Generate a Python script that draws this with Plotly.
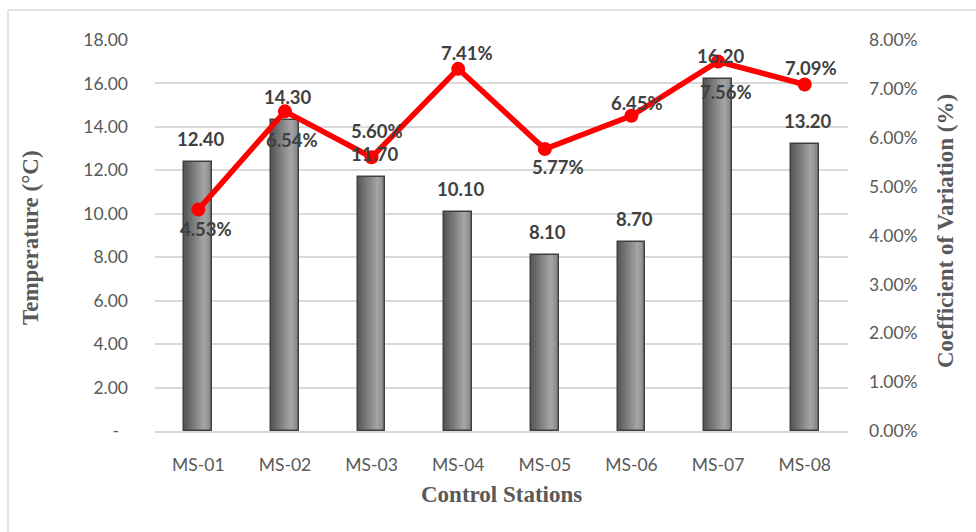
import plotly.graph_objects as go

# ---- data ----
stations = ["MS-01", "MS-02", "MS-03", "MS-04", "MS-05", "MS-06", "MS-07", "MS-08"]
temperature_c = [12.40, 14.30, 11.70, 10.10, 8.10, 8.70, 16.20, 13.20]
cv_percent = [4.53, 6.54, 5.60, 7.41, 5.77, 6.45, 7.56, 7.09]

temp_tick_vals = [0, 2, 4, 6, 8, 10, 12, 14, 16, 18]
temp_tick_text = ["-\u00a0\u00a0", "2.00", "4.00", "6.00", "8.00", "10.00",
                  "12.00", "14.00", "16.00", "18.00"]
cv_tick_vals = [0, 1, 2, 3, 4, 5, 6, 7, 8]
cv_tick_text = ["0.00%", "1.00%", "2.00%", "3.00%", "4.00%", "5.00%",
                "6.00%", "7.00%", "8.00%"]

# pixel offsets (dx, dy) of each CV label from its marker
cv_label_offsets = [(8, -19), (7, -29), (5, 26), (9, 16),
                    (13, -18), (6, 13), (8, -30), (6, 16)]

# ---- styling ----
W, H = 976, 532
ML, MR, MT, MB = 155, 128, 40, 101
TICK_FONT = dict(family="Lato", size=17.5, color="#595959")
LABEL_FONT = dict(family="Lato", size=18.5, color="#404040")
TITLE_FONT = dict(family="Liberation Serif", size=23, color="#595959")
GRID = "#d9d9d9"
BAR_W = 0.32
N_SLICES = 18


def shade(t):
    """Horizontal grey gradient across a bar: dark left edge, light toward right."""
    stops = [(0.0, 0x56), (0.72, 0xa6), (1.0, 0x80)]
    for (t0, c0), (t1, c1) in zip(stops, stops[1:]):
        if t <= t1:
            f = (t - t0) / (t1 - t0)
            c = round(c0 + (c1 - c0) * f)
            return f"rgb({c},{c},{c})"
    c = stops[-1][1]
    return f"rgb({c},{c},{c})"


fig = go.Figure()

# gradient-filled columns built from thin overlapping slices
step = BAR_W / N_SLICES
for i in range(N_SLICES):
    w = step * (1.6 if i < N_SLICES - 1 else 1.0)
    fig.add_trace(go.Bar(
        x=stations, y=temperature_c,
        width=w, offset=-BAR_W / 2 + i * step,
        marker=dict(color=shade((i + 0.5) / N_SLICES), line=dict(width=0)),
        hoverinfo="skip", showlegend=False,
    ))

# column outline
fig.add_trace(go.Bar(
    x=stations, y=temperature_c,
    width=BAR_W, offset=-BAR_W / 2,
    marker=dict(color="rgba(0,0,0,0)", line=dict(color="#404040", width=1.5)),
    name="Temperature", showlegend=False,
))

# coefficient of variation line
fig.add_trace(go.Scatter(
    x=stations, y=cv_percent, yaxis="y2",
    mode="lines+markers",
    line=dict(color="#ff0000", width=5.5),
    marker=dict(color="#ff0000", size=14),
    name="CV", showlegend=False,
))

annotations = []
for s, v in zip(stations, temperature_c):
    annotations.append(dict(
        x=s, y=v, xref="x", yref="y", text=f"<b>{v:.2f}</b>",
        showarrow=False, xshift=3, yshift=23, font=LABEL_FONT,
    ))
for s, v, (dx, dy) in zip(stations, cv_percent, cv_label_offsets):
    annotations.append(dict(
        x=s, y=v, xref="x", yref="y2", text=f"<b>{v:.2f}%</b>",
        showarrow=False, xshift=dx, yshift=dy, font=LABEL_FONT,
    ))


def px_x(px):
    return (px - ML) / (W - ML - MR)


def px_y(py):
    return (H - MB - py) / (H - MT - MB)


annotations += [
    dict(x=px_x(30), y=px_y(238), xref="paper", yref="paper",
         text="<b>Temperature (°C)</b>", textangle=-90, showarrow=False,
         xanchor="center", yanchor="middle", font=TITLE_FONT),
    dict(x=px_x(945), y=px_y(231), xref="paper", yref="paper",
         text="<b>Coefficient of Variation (%)</b>", textangle=-90, showarrow=False,
         xanchor="center", yanchor="middle", font=TITLE_FONT),
    dict(x=px_x(502), y=px_y(494), xref="paper", yref="paper",
         text="<b>Control Stations</b>", showarrow=False,
         xanchor="center", yanchor="middle", font=TITLE_FONT),
]

# light frame around the chart area (left and top edges)
shapes = [
    dict(type="line", xref="paper", yref="paper",
         x0=px_x(8), x1=px_x(8), y0=px_y(10), y1=px_y(560),
         line=dict(color=GRID, width=1.5)),
    dict(type="line", xref="paper", yref="paper",
         x0=px_x(8), x1=px_x(1000), y0=px_y(10), y1=px_y(10),
         line=dict(color=GRID, width=1.5)),
]

fig.update_layout(
    width=W, height=H,
    margin=dict(l=ML, r=MR, t=MT, b=MB, pad=0),
    paper_bgcolor="white", plot_bgcolor="white",
    barmode="overlay", bargap=0,
    showlegend=False,
    annotations=annotations,
    shapes=shapes,
    xaxis=dict(
        type="category", range=[-0.5, 7.5],
        showgrid=False, zeroline=False,
        showline=True, linecolor=GRID, linewidth=1.5,
        ticks="", tickfont=TICK_FONT, ticklabelstandoff=17,
    ),
    yaxis=dict(
        range=[0, 18], tickvals=temp_tick_vals, ticktext=temp_tick_text,
        showgrid=True, gridcolor=GRID, gridwidth=1.5,
        zeroline=False, showline=False,
        ticks="", tickfont=TICK_FONT, ticklabelstandoff=26,
    ),
    yaxis2=dict(
        overlaying="y", side="right",
        range=[0, 8], tickvals=cv_tick_vals, ticktext=cv_tick_text,
        showgrid=False, zeroline=False, showline=False,
        ticks="", tickfont=TICK_FONT, ticklabelstandoff=20,
    ),
)

fig.write_html("out.html")
